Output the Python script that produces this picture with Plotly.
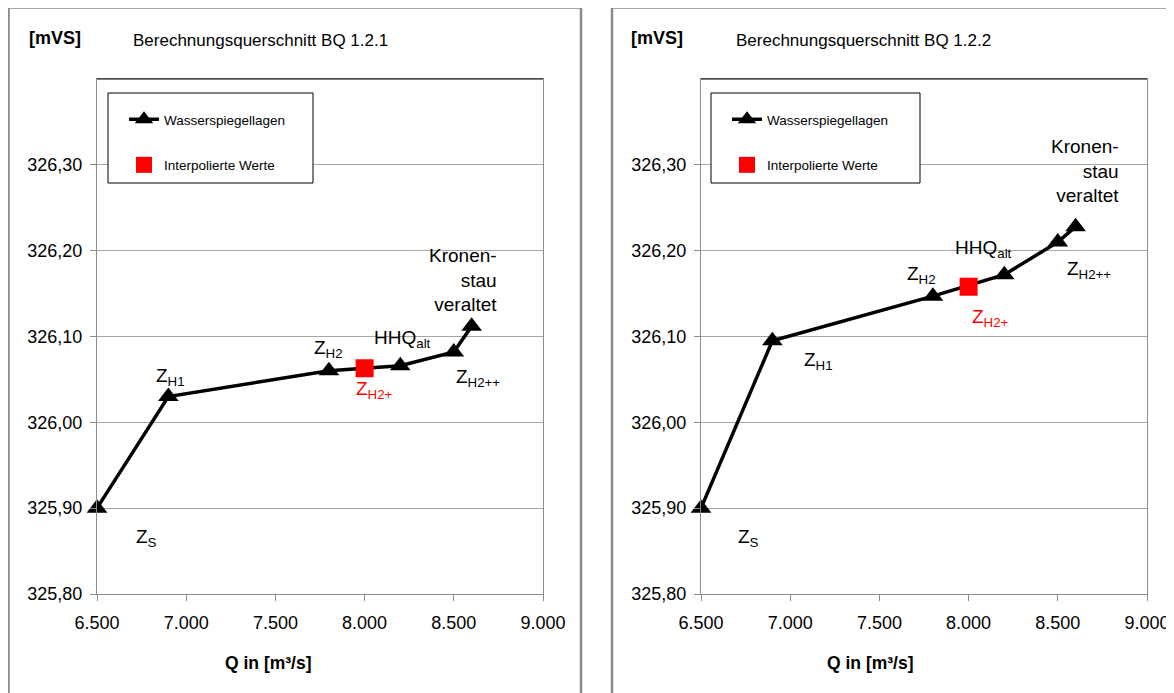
import plotly.graph_objects as go

# ---------------- data ----------------
q_values = [6500, 6900, 7800, 8200, 8500, 8600]
wsp_bq121 = [325.900, 326.030, 326.060, 326.066, 326.082, 326.112]
wsp_bq122 = [325.900, 326.095, 326.147, 326.172, 326.210, 326.228]
q_interp = [8000]
interp_bq121 = [326.063]
interp_bq122 = [326.158]
point_labels = ["Z<sub>S</sub>", "Z<sub>H1</sub>", "Z<sub>H2</sub>", "HHQ<sub>alt</sub>",
                "Z<sub>H2++</sub>", "Kronen-<br>stau<br>veraltet"]
interp_label = "Z<sub>H2+</sub>"
titles = ["Berechnungsquerschnitt BQ 1.2.1", "Berechnungsquerschnitt BQ 1.2.2"]
y_ticks = [325.8, 325.9, 326.0, 326.1, 326.2, 326.3]
x_ticks = [6500, 7000, 7500, 8000, 8500, 9000]

# the page body adds an 8px offset; figure is sized so the view matches 1174x693
OFF = 8
W, H = 1174 - OFF, 693 - OFF
FONT = "Liberation Sans, Arial, sans-serif"

def px(xp):
    return (xp - OFF) / W

def py(yp):
    return (H - (yp - OFF)) / H

fig = go.Figure()

panels = [
    dict(y=wsp_bq121, yi=interp_bq121, xa="x", ya="y", leg="legend", title=titles[0],
         dom=[px(97), px(543)], frame=[8.5, 581], legbox=[108, 313],
         offs=[(49, -30, "center"), (2, 20, "center"), (0, 22, "center"), (2, 27, "center"),
               (24, -26, "center"), (27, 46, "right")],
         ioff=(10, -22), unit_x=55, title_x=260, q_x=268),
    dict(y=wsp_bq122, yi=interp_bq122, xa="x2", ya="y2", leg="legend2", title=titles[1],
         dom=[px(701), px(1147)], frame=[612, 1200], legbox=[711, 920],
         offs=[(47, -30, "center"), (46, -20, "center"), (-11, 21, "center"), (-21, 26, "center"),
               (31, -28, "center"), (45, 56, "right")],
         ioff=(22, -31), unit_x=657, title_x=863, q_x=870),
]

annotations = []
shapes = []

for i, p in enumerate(panels):
    fig.add_trace(go.Scatter(
        x=q_values, y=p["y"], xaxis=p["xa"], yaxis=p["ya"], mode="lines+markers",
        name="Wasserspiegellagen", legend=p["leg"], legendgroup="a%d" % i,
        line=dict(color="black", width=3.5), cliponaxis=False,
        marker=dict(symbol="triangle-up", size=18, color="black"),
    ))
    fig.add_trace(go.Scatter(
        x=q_interp, y=p["yi"], xaxis=p["xa"], yaxis=p["ya"], mode="markers",
        name="Interpolierte Werte", legend=p["leg"], legendgroup="b%d" % i,
        cliponaxis=False,
        marker=dict(symbol="square", size=18, color="#ff0000"),
    ))
    # point labels
    for (qx, yv, lab, off) in zip(q_values, p["y"], point_labels, p["offs"]):
        dx, dy, anchor = off
        annotations.append(dict(
            x=qx, y=yv, xref=p["xa"], yref=p["ya"], text=lab, showarrow=False,
            xanchor=anchor, yanchor="middle", align=anchor, xshift=dx, yshift=dy,
            font=dict(family=FONT, size=19, color="black"),
        ))
    annotations.append(dict(
        x=q_interp[0], y=p["yi"][0], xref=p["xa"], yref=p["ya"], text=interp_label,
        showarrow=False, xanchor="center", yanchor="middle",
        xshift=p["ioff"][0], yshift=p["ioff"][1],
        font=dict(family=FONT, size=19, color="#ff0000"),
    ))
    # headings
    annotations.append(dict(x=px(p["unit_x"]), y=py(38), xref="paper", yref="paper",
                            text="<b>[mVS]</b>", showarrow=False, xanchor="center", yanchor="middle",
                            font=dict(family=FONT, size=18, color="black")))
    annotations.append(dict(x=px(p["title_x"]), y=py(41), xref="paper", yref="paper",
                            text=p["title"], showarrow=False, xanchor="center", yanchor="middle",
                            font=dict(family=FONT, size=17, color="black")))
    annotations.append(dict(x=px(p["q_x"]), y=py(663), xref="paper", yref="paper",
                            text="<b>Q in [m³/s]</b>", showarrow=False, xanchor="center", yanchor="middle",
                            font=dict(family=FONT, size=17.5, color="black")))
    # outer chart frame
    shapes.append(dict(type="rect", xref="paper", yref="paper",
                       x0=px(p["frame"][0]), x1=px(p["frame"][1]), y0=py(730), y1=py(7.5),
                       line=dict(color="#8a8a8a", width=2.5), fillcolor="rgba(0,0,0,0)"))
    # plot area top border (black)
    shapes.append(dict(type="line", xref=p["xa"] + " domain", yref=p["ya"] + " domain",
                       x0=0, x1=1, y0=1, y1=1, line=dict(color="black", width=1.2)))
    # legend box
    shapes.append(dict(type="rect", xref="paper", yref="paper",
                       x0=px(p["legbox"][0]), x1=px(p["legbox"][1]), y0=py(183), y1=py(93),
                       line=dict(color="black", width=1), fillcolor="white", layer="above"))

axis_common = dict(showline=True, linecolor="#8c8c8c", linewidth=1.2, mirror=True,
                   ticks="outside", tickcolor="#8c8c8c", ticklen=6, zeroline=False,
                   automargin=False,
                   tickfont=dict(family=FONT, size=18, color="black"))

layout = dict(
    template="none",
    width=W, height=H, margin=dict(l=0, r=0, t=0, b=0, pad=0, autoexpand=False),
    paper_bgcolor="white", plot_bgcolor="white",
    separators=",.",
    showlegend=True,
    annotations=annotations, shapes=shapes,
)

for p in panels:
    xa = "xaxis" if p["xa"] == "x" else "xaxis2"
    ya = "yaxis" if p["ya"] == "y" else "yaxis2"
    layout[xa] = dict(domain=p["dom"], range=[6500, 9000], tickvals=x_ticks, tickformat=",d",
                      showgrid=False, anchor=p["ya"], ticklabelstandoff=6, **axis_common)
    layout[ya] = dict(domain=[py(594), py(79)], range=[325.8, 326.4], tickvals=y_ticks,
                      tickformat=".2f", showgrid=True, gridcolor="#a6a6a6", gridwidth=1,
                      anchor=p["xa"], ticklabelstandoff=4, **axis_common)

leg_common = dict(bgcolor="rgba(0,0,0,0)", borderwidth=0, tracegroupgap=25,
                  font=dict(family=FONT, size=13.5, color="black"),
                  xanchor="left", yanchor="top", itemclick=False)
layout["legend"] = dict(x=px(124), y=py(104), **leg_common)
layout["legend2"] = dict(x=px(727), y=py(104), **leg_common)

fig.update_layout(**layout)
fig.write_html("out.html")
